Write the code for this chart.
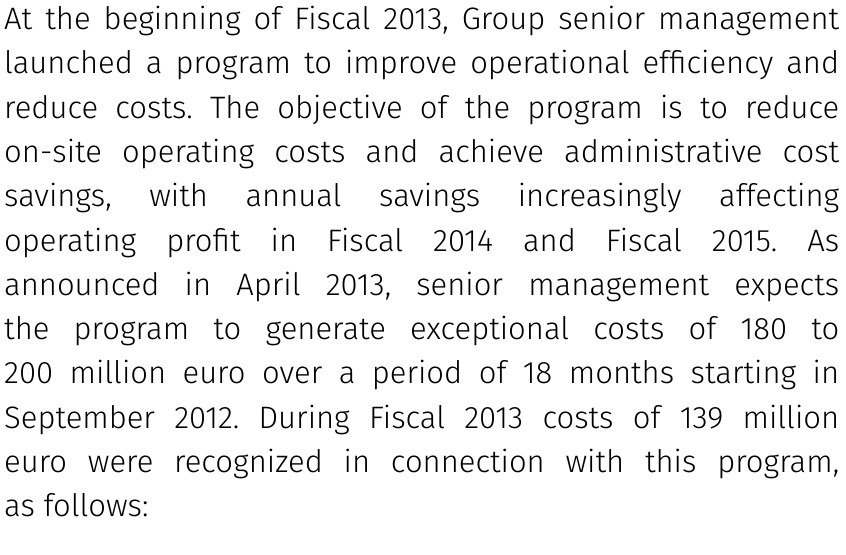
\documentclass[border=0pt]{standalone}
\usepackage{pgfplots}
\pgfplotsset{compat=1.18}
\usepackage{fontspec}
\setmainfont{Fira Sans}[UprightFont=* Light]
\begin{document}
\begin{tikzpicture}[x=1bp,y=1bp]
\useasboundingbox (0,0) rectangle (846,555);
\node[anchor=north west,inner sep=0pt,text width=835bp,align=justify,font=\fontsize{31bp}{44.3bp}\selectfont] at (4,549) {\frenchspacing\hyphenpenalty=10000\emergencystretch=3em\tolerance=9999
At the beginning of Fiscal 2013, Group senior management\linebreak
launched a program to improve operational efficiency and\linebreak
reduce costs. The objective of the program is to reduce\linebreak
on-site operating costs and achieve administrative cost\linebreak
savings, with annual savings increasingly affecting\linebreak
operating profit in Fiscal 2014 and Fiscal 2015. As\linebreak
announced in April 2013, senior management expects\linebreak
the program to generate exceptional costs of 180 to\linebreak
200 million euro over a period of 18 months starting in\linebreak
September 2012. During Fiscal 2013 costs of 139 million\linebreak
euro were recognized in connection with this program,\linebreak
as follows:\par};
\end{tikzpicture}
\end{document}
